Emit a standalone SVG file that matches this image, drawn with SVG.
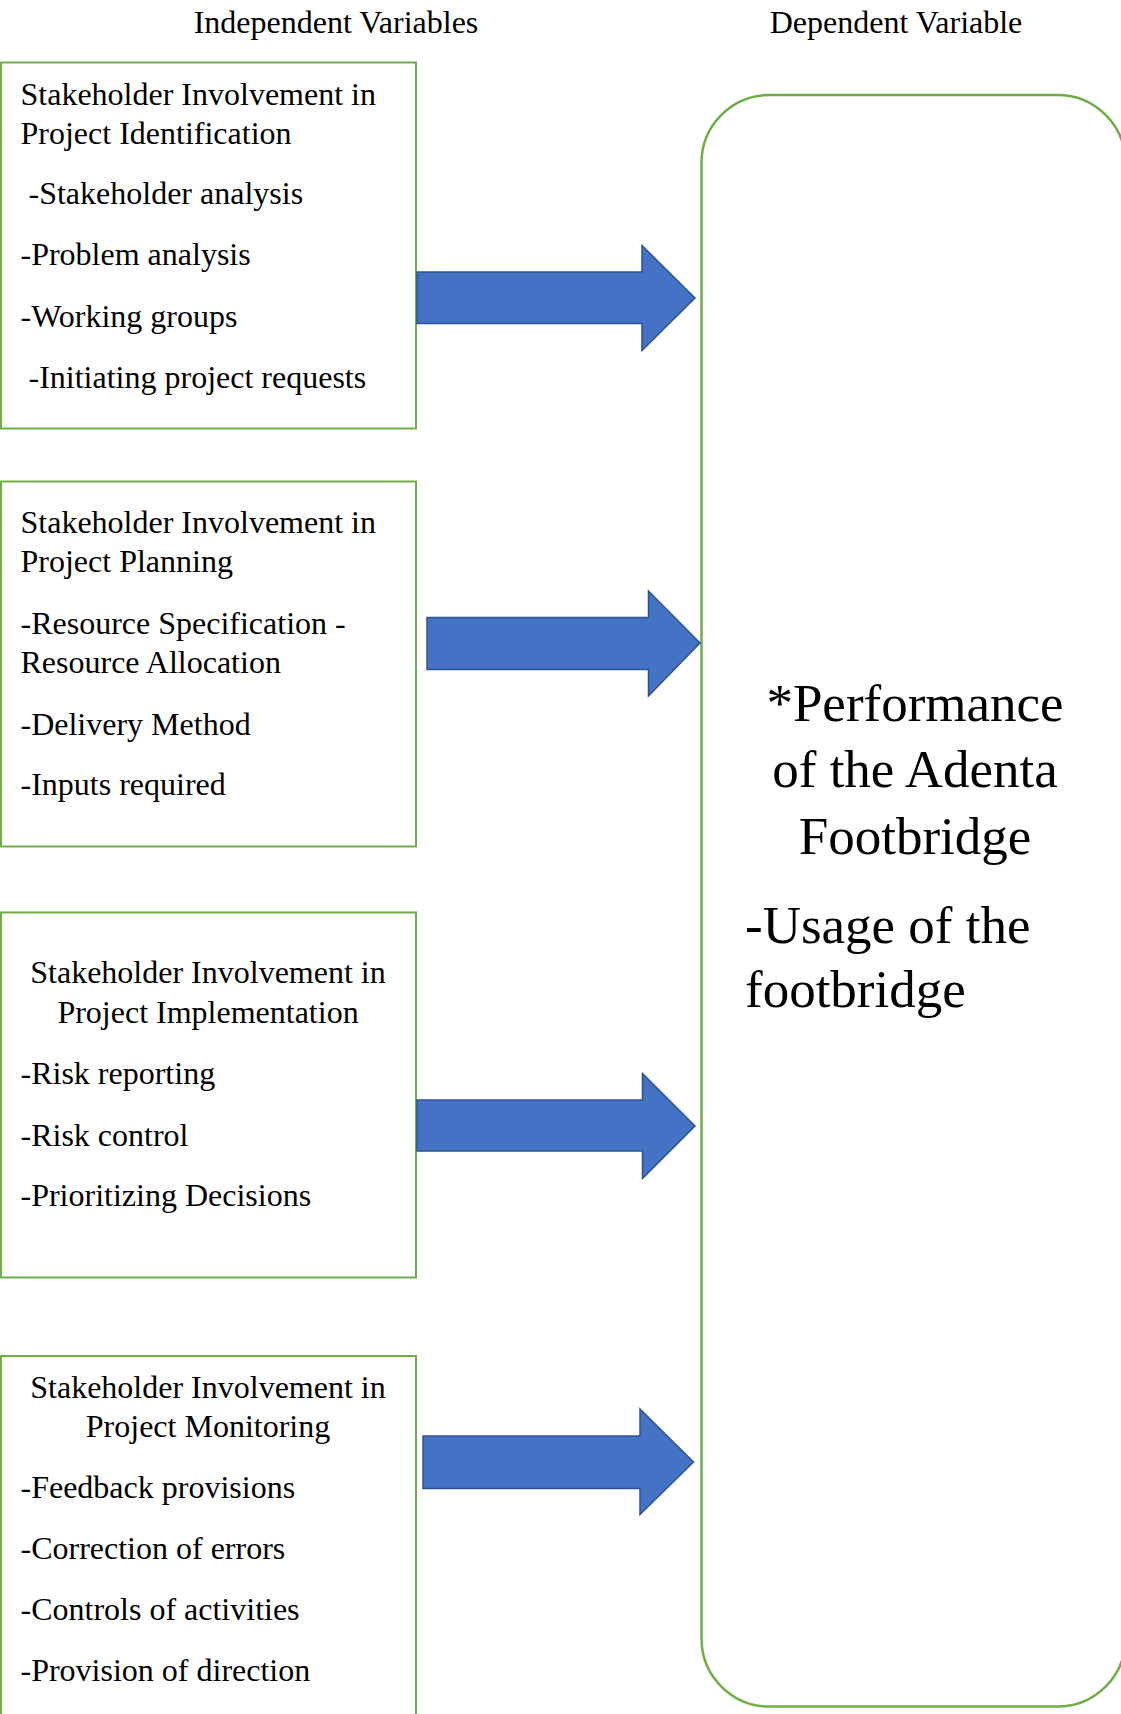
<svg xmlns="http://www.w3.org/2000/svg" width="1121" height="1714" viewBox="0 0 1121 1714">
<style>
.bg{fill:#ffffff}
.box{fill:#ffffff;stroke:#70AD47;stroke-width:2}
.dep{fill:#ffffff;stroke:#70AD47;stroke-width:2.5}
.t{font-family:"Liberation Serif","Times New Roman",serif;font-size:32px;fill:#000000}
.c{text-anchor:middle}
.big{font-family:"Liberation Serif","Times New Roman",serif;font-size:53px;fill:#000000}
.arrow{fill:#4472C4;stroke:#2F528F;stroke-width:1.5;stroke-linejoin:miter}
</style>
<rect class="bg" x="0" y="0" width="1121" height="1714"/>
<g id="headers">
<text class="t c" x="336" y="33">Independent Variables</text>
<text class="t c" x="896" y="33">Dependent Variable</text>
</g>
<g id="node-identification">
<rect class="box" x="1" y="62.5" width="415" height="366"/>
<text class="t" x="20.5" y="104.5">Stakeholder Involvement in</text>
<text class="t" x="20.5" y="143.5">Project Identification</text>
<text class="t" x="20.5" y="204" xml:space="preserve"> -Stakeholder analysis</text>
<text class="t" x="20.5" y="265">-Problem analysis</text>
<text class="t" x="20.5" y="326.5">-Working groups</text>
<text class="t" x="20.5" y="387.5" xml:space="preserve"> -Initiating project requests</text>
</g>
<g id="node-planning">
<rect class="box" x="1" y="481.5" width="415" height="365"/>
<text class="t" x="20.5" y="532.5">Stakeholder Involvement in</text>
<text class="t" x="20.5" y="571.5">Project Planning</text>
<text class="t" x="20.5" y="633.5">-Resource Specification -</text>
<text class="t" x="20.5" y="672.5">Resource Allocation</text>
<text class="t" x="20.5" y="734.5">-Delivery Method</text>
<text class="t" x="20.5" y="794.5">-Inputs required</text>
</g>
<g id="node-implementation">
<rect class="box" x="1" y="912.5" width="415" height="365"/>
<text class="t c" x="208" y="982.5">Stakeholder Involvement in</text>
<text class="t c" x="208" y="1022.5">Project Implementation</text>
<text class="t" x="20.5" y="1083.5">-Risk reporting</text>
<text class="t" x="20.5" y="1145.5">-Risk control</text>
<text class="t" x="20.5" y="1206">-Prioritizing Decisions</text>
</g>
<g id="node-monitoring">
<rect class="box" x="1" y="1356" width="415" height="380"/>
<text class="t c" x="208" y="1397.5">Stakeholder Involvement in</text>
<text class="t c" x="208" y="1437">Project Monitoring</text>
<text class="t" x="20.5" y="1497.5">-Feedback provisions</text>
<text class="t" x="20.5" y="1559">-Correction of errors</text>
<text class="t" x="20.5" y="1619.5">-Controls of activities</text>
<text class="t" x="20.5" y="1681">-Provision of direction</text>
</g>
<g id="node-dependent">
<rect class="dep" x="701.5" y="95" width="424" height="1611.5" rx="68" ry="68"/>
<text class="big c" x="915" y="721">*Performance</text>
<text class="big c" x="915" y="787">of the Adenta</text>
<text class="big c" x="915" y="853.5">Footbridge</text>
<text class="big" x="745" y="943">-Usage of the</text>
<text class="big" x="745" y="1007">footbridge</text>
</g>
<g id="connectors">
<polygon class="arrow" points="417,272 642,272 642,245.5 695,298 642,350.5 642,323.5 417,323.5"/>
<polygon class="arrow" points="427,617.5 648.5,617.5 648.5,591 700,643 648.5,696 648.5,669.5 427,669.5"/>
<polygon class="arrow" points="417,1100 642.5,1100 642.5,1073.5 695,1126 642.5,1178.5 642.5,1151 417,1151"/>
<polygon class="arrow" points="423,1436 640,1436 640,1409 693.5,1462 640,1514.5 640,1488.5 423,1488.5"/>
</g>
</svg>
